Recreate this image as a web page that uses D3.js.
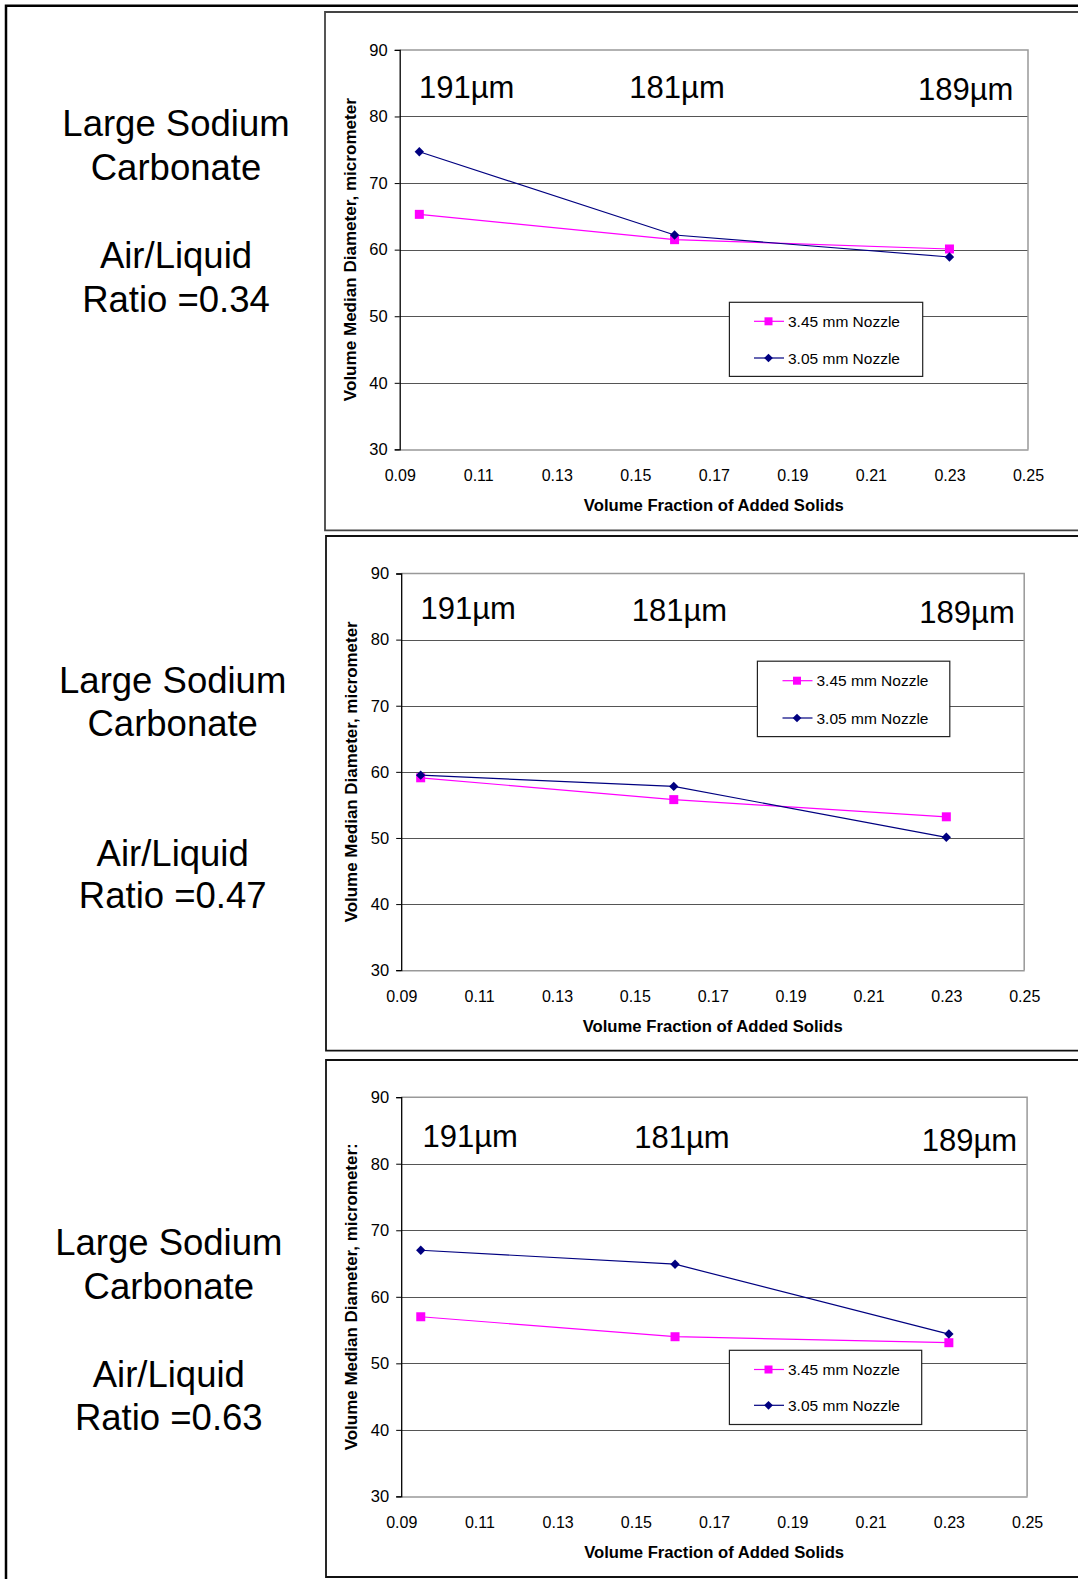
<!DOCTYPE html>
<html>
<head>
<meta charset="utf-8">
<script src="https://cdn.jsdelivr.net/npm/d3@7"></script>
<style>
  html, body { margin: 0; padding: 0; background: #fff; }
  svg { display: block; }
  text { font-family: "Liberation Sans", Arial, sans-serif; }
</style>
</head>
<body>
<svg id="chart" width="1078" height="1579"></svg>
<script>
// ---------------- DATA ----------------
const xValues = [0.095, 0.16, 0.23];
const xTicks = [0.09, 0.11, 0.13, 0.15, 0.17, 0.19, 0.21, 0.23, 0.25];
const yTicks = [30, 40, 50, 60, 70, 80, 90];
const sizeLabels = ["191\u00b5m", "181\u00b5m", "189\u00b5m"];
const ratioLabels = ["Ratio =0.34", "Ratio =0.47", "Ratio =0.63"];
const seriesNames = ["3.45 mm Nozzle", "3.05 mm Nozzle"];
const yTitles = ["Volume Median Diameter, micrometer", "Volume Median Diameter, micrometer", "Volume Median Diameter, micrometer:"];

const nozzle345_r034 = [65.3, 61.5, 60.1];
const nozzle305_r034 = [74.7, 62.2, 58.9];
const nozzle345_r047 = [59.1, 55.8, 53.2];
const nozzle305_r047 = [59.5, 57.8, 50.1];
const nozzle345_r063 = [57.0, 54.0, 53.1];
const nozzle305_r063 = [67.0, 64.9, 54.4];

// ---------------- LAYOUT ----------------
const panels = [
  { s345: nozzle345_r034, s305: nozzle305_r034, ratio: ratioLabels[0], yTitle: yTitles[0], yTitleLen: 303,
    box: {x: 325, y: 12, b: 530.3, stroke: "#444"},
    plot: {l: 399.7, r: 1028, t: 49.9, b: 449.4},
    sizePos: [[419, 98], [629.3, 98], [918, 100]],
    leftText: {cx: 176, y: [136, 180, 268, 311.7]},
    legend: {x0: 729.4, x1: 922.7, y0: 302.3, y1: 376.4, rows: [321.3, 358], lx: 754}
  },
  { s345: nozzle345_r047, s305: nozzle305_r047, ratio: ratioLabels[1], yTitle: yTitles[1], yTitleLen: 301,
    box: {x: 326, y: 536, b: 1050.6, stroke: "#111"},
    plot: {l: 401.2, r: 1024.2, t: 573.5, b: 970.2},
    sizePos: [[420.5, 618.7], [631.7, 621], [919.3, 623]],
    leftText: {cx: 172.7, y: [692.7, 735.7, 865.7, 908.3]},
    legend: {x0: 757.4, x1: 949.8, y0: 661.2, y1: 736.6, rows: [680.7, 718], lx: 782.5}
  },
  { s345: nozzle345_r063, s305: nozzle305_r063, ratio: ratioLabels[2], yTitle: yTitles[2], yTitleLen: 307,
    box: {x: 326, y: 1060, b: 1577, stroke: "#111"},
    plot: {l: 401.2, r: 1027.1, t: 1097.2, b: 1496.4},
    sizePos: [[422.5, 1147.2], [634.2, 1147.8], [921.7, 1150.5]],
    leftText: {cx: 168.8, y: [1255, 1299, 1386.7, 1430]},
    legend: {x0: 729.4, x1: 921.7, y0: 1350.3, y1: 1424.5, rows: [1369.5, 1405.3], lx: 754}
  }
];

const PINK = "#ff00ff", NAVY = "#000080";
const svg = d3.select("#chart");

// outer frame (left + top)
svg.append("path")
  .attr("d", "M6,1579 V5.7 H1078")
  .attr("fill", "none").attr("stroke", "#000").attr("stroke-width", 2.5);

const squareSym = size => d3.symbol(d3.symbolSquare, size)();

panels.forEach(p => {
  const g = svg.append("g");

  // panel box
  g.append("path")
    .attr("d", `M1090,${p.box.y} H${p.box.x} V${p.box.b} H1090`)
    .attr("fill", "none").attr("stroke", p.box.stroke).attr("stroke-width", 1.8);

  // left description text
  const lt = [ "Large Sodium", "Carbonate", "Air/Liquid", p.ratio ];
  lt.forEach((t, i) => {
    g.append("text").attr("x", p.leftText.cx).attr("y", p.leftText.y[i])
      .attr("text-anchor", "middle").attr("font-size", 36.5).attr("fill", "#000").text(t);
  });

  const x = d3.scaleLinear().domain([0.09, 0.25]).range([p.plot.l, p.plot.r]);
  const y = d3.scaleLinear().domain([30, 90]).range([p.plot.b, p.plot.t]);

  // gridlines
  g.append("g").selectAll("line").data(yTicks.filter(v => v > 30 && v < 90)).join("line")
    .attr("x1", p.plot.l).attr("x2", p.plot.r)
    .attr("y1", d => Math.round(y(d)) + 0.5).attr("y2", d => Math.round(y(d)) + 0.5)
    .attr("stroke", "#555").attr("stroke-width", 1.2);

  // top & right border (gray)
  g.append("path")
    .attr("d", `M${p.plot.l},${y(90)} H${x(0.25)} V${y(30)}`)
    .attr("fill", "none").attr("stroke", "#999").attr("stroke-width", 1.5);

  // x axis
  const xAxis = g.append("g").attr("transform", `translate(0,${y(30)})`)
    .call(d3.axisBottom(x).tickValues(xTicks).tickSize(0).tickPadding(20.6)
      .tickFormat(d3.format(".2f")));
  xAxis.select(".domain").attr("stroke", "#999").attr("stroke-width", 1.5);
  xAxis.selectAll("text").attr("font-size", 16).attr("fill", "#000")
    .style("font-family", '"Liberation Sans", Arial, sans-serif');

  // y axis
  const yAxis = g.append("g").attr("transform", `translate(${p.plot.l},0)`)
    .call(d3.axisLeft(y).tickValues(yTicks).tickSize(5).tickPadding(7));
  yAxis.select(".domain").attr("stroke", "#000").attr("stroke-width", 1.3);
  yAxis.selectAll(".tick line").attr("stroke", "#000");
  yAxis.selectAll("text").attr("font-size", 16.5).attr("fill", "#000")
    .style("font-family", '"Liberation Sans", Arial, sans-serif');

  // axis titles
  g.append("text")
    .attr("x", (p.plot.l + p.plot.r) / 2).attr("y", p.plot.b + 62)
    .attr("text-anchor", "middle").attr("font-size", 16).attr("font-weight", "bold")
    .attr("textLength", 260).attr("lengthAdjust", "spacingAndGlyphs")
    .text("Volume Fraction of Added Solids");
  g.append("text")
    .attr("transform", `translate(${p.plot.l - 44},${(p.plot.t + p.plot.b) / 2}) rotate(-90)`)
    .attr("text-anchor", "middle").attr("font-size", 16).attr("font-weight", "bold")
    .attr("textLength", p.yTitleLen).attr("lengthAdjust", "spacingAndGlyphs")
    .text(p.yTitle);

  // size annotations
  sizeLabels.forEach((t, i) => {
    g.append("text").attr("x", p.sizePos[i][0]).attr("y", p.sizePos[i][1])
      .attr("font-size", 31).attr("fill", "#000").text(t);
  });

  // series lines
  const line = d3.line().x((d, i) => x(xValues[i])).y(d => y(d));
  g.append("path").datum(p.s345).attr("d", line)
    .attr("fill", "none").attr("stroke", PINK).attr("stroke-width", 1.2);
  g.append("path").datum(p.s305).attr("d", line)
    .attr("fill", "none").attr("stroke", NAVY).attr("stroke-width", 1.2);

  // markers
  g.append("g").selectAll("path").data(p.s345).join("path")
    .attr("d", squareSym(81))
    .attr("transform", (d, i) => `translate(${x(xValues[i])},${y(d)})`)
    .attr("fill", PINK);
  g.append("g").selectAll("path").data(p.s305).join("path")
    .attr("d", squareSym(44))
    .attr("transform", (d, i) => `translate(${x(xValues[i])},${y(d)}) rotate(45)`)
    .attr("fill", NAVY);

  // legend
  const L = p.legend;
  g.append("rect").attr("x", L.x0).attr("y", L.y0)
    .attr("width", L.x1 - L.x0).attr("height", L.y1 - L.y0)
    .attr("fill", "#fff").attr("stroke", "#222").attr("stroke-width", 1.2);
  const colors = [PINK, NAVY];
  seriesNames.forEach((name, i) => {
    const ry = L.rows[i];
    g.append("line").attr("x1", L.lx).attr("x2", L.lx + 30).attr("y1", ry).attr("y2", ry)
      .attr("stroke", colors[i]).attr("stroke-width", 1.2);
    if (i === 0) {
      g.append("path").attr("d", squareSym(64))
        .attr("transform", `translate(${L.lx + 14.5},${ry})`).attr("fill", PINK);
    } else {
      g.append("path").attr("d", squareSym(38))
        .attr("transform", `translate(${L.lx + 14.5},${ry}) rotate(45)`).attr("fill", NAVY);
    }
    g.append("text").attr("x", L.lx + 34).attr("y", ry + 5.5)
      .attr("font-size", 15).attr("textLength", 112).attr("lengthAdjust", "spacingAndGlyphs")
      .attr("fill", "#000").text(name);
  });
});
</script>
</body>
</html>
